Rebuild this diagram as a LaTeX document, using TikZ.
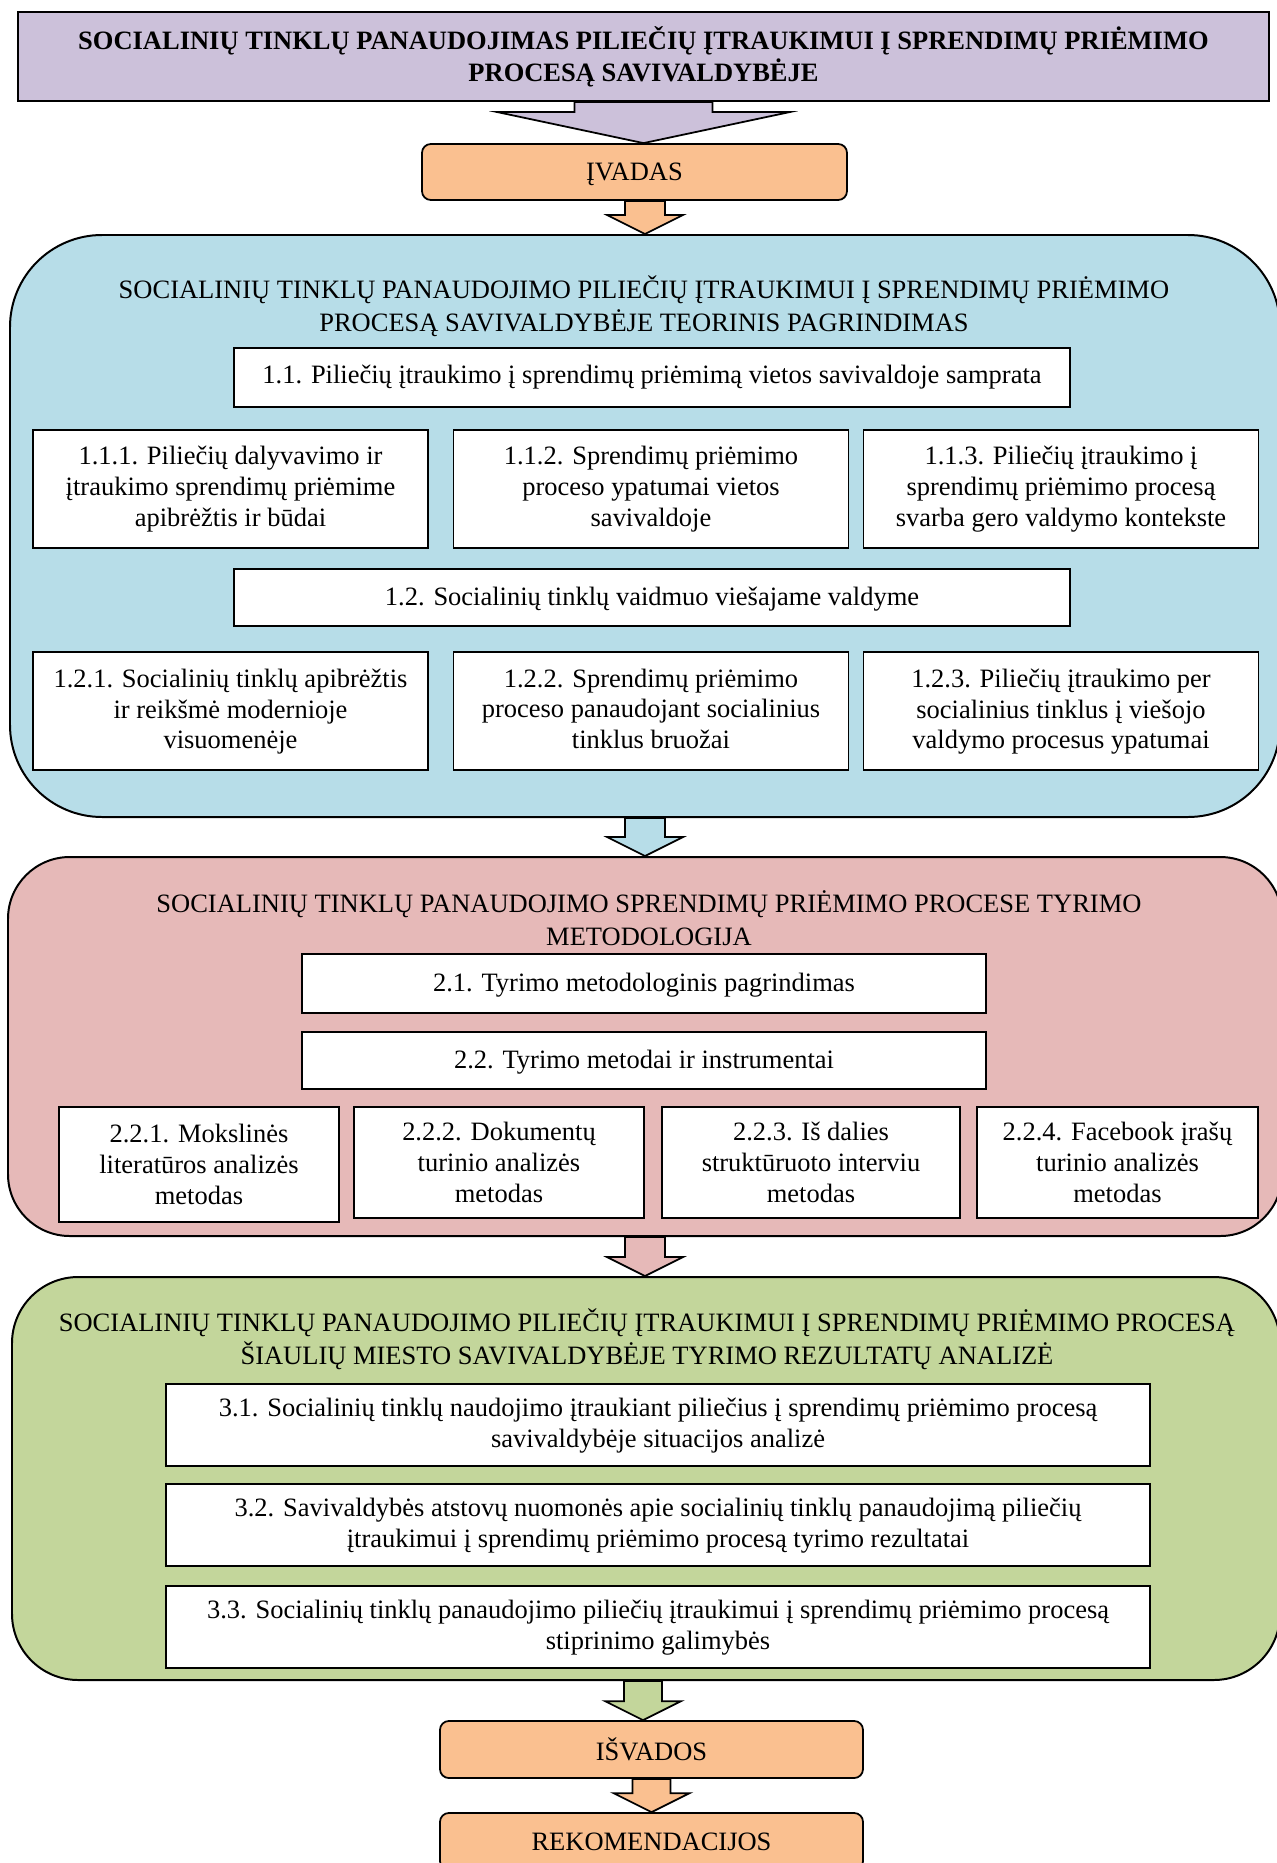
\documentclass[tikz,border=0pt]{standalone}
\usepackage{fontspec}
\setmainfont{Liberation Serif}
\usepackage{tikz}
\usetikzlibrary{calc,positioning}
\definecolor{headpurple}{HTML}{CCC1DA}
\definecolor{peach}{HTML}{FAC090}
\definecolor{teorblue}{HTML}{B7DDE8}
\definecolor{metpink}{HTML}{E6B9B8}
\definecolor{resgreen}{HTML}{C3D69B}
\newcommand{\px}{0.453pt}
\tikzstyle{box}=[draw,fill=white,line width=0.8pt,align=center,inner sep=2pt,font=\fontsize{12}{14}\selectfont]
\tikzstyle{panel}=[draw,line width=0.9pt,inner sep=0pt]
\tikzstyle{paneltitle}=[align=center,inner sep=0pt,font=\fontsize{12}{15}\selectfont]
\tikzstyle{endbox}=[draw,fill=peach,line width=0.8pt,rounded corners=4pt,minimum width=423*\px,minimum height=57*\px,text depth=0pt,font=\fontsize{12}{14}\selectfont]
\newcommand{\blockarrow}[6]{%
  \filldraw[fill=#3,line width=0.8pt,line join=miter]
    ($(#1)+(-#4,0)$) -- ($(#2)+(-#4,-#6)$) -- ($(#2)+(-#5,-#6)$) -- (#2)
    -- ($(#2)+(#5,-#6)$) -- ($(#2)+(#4,-#6)$) -- ($(#1)+(#4,0)$) -- cycle;}

\begin{document}
\begin{tikzpicture}[x=\px,y=-\px,
wide/.style={box,minimum width=836*\px},
third/.style={box,minimum width=395*\px,minimum height=118*\px},
mid/.style={box,minimum width=684*\px},
quarter/.style={box,minimum height=111*\px},
long/.style={box,minimum width=984*\px,minimum height=82*\px}]
\useasboundingbox (0,0) rectangle (1277,1863);
\clip (0,0) rectangle (1277,1863);

\node [draw,fill=headpurple,line width=0.9pt,align=center,minimum width=1251*\px,minimum height=89*\px,font=\fontsize{12}{14.5}\selectfont\bfseries] (title) at (643.5,56.5)
    {SOCIALINIŲ TINKLŲ PANAUDOJIMAS PILIEČIŲ ĮTRAUKIMUI Į SPRENDIMŲ PRIĖMIMO\\PROCESĄ SAVIVALDYBĖJE};
\node [endbox,minimum width=425*\px,minimum height=56*\px] (ivadas) at (634.5,172) {ĮVADAS};

\node [panel,fill=teorblue,minimum width=1270*\px,minimum height=582*\px,rounded corners=41.7pt] (teorija) at (645,526) {};
\node [paneltitle] (teorijatitle) at (644,306.5)
    {SOCIALINIŲ TINKLŲ PANAUDOJIMO PILIEČIŲ ĮTRAUKIMUI Į SPRENDIMŲ PRIĖMIMO\\PROCESĄ SAVIVALDYBĖJE TEORINIS PAGRINDIMAS};
\node [wide,minimum height=59*\px] (s11) at (652,377.5)
    {1.1. Piliečių įtraukimo į sprendimų priėmimą vietos savivaldoje samprata};
\node [third] (s111) at (230.5,489) {1.1.1. Piliečių dalyvavimo ir\\įtraukimo sprendimų priėmime\\apibrėžtis ir būdai};
\node [third] (s112) at (651,489) {1.1.2. Sprendimų priėmimo\\proceso ypatumai vietos\\savivaldoje};
\node [third] (s113) at (1061,489) {1.1.3. Piliečių įtraukimo į\\sprendimų priėmimo procesą\\svarba gero valdymo kontekste};
\node [wide,minimum height=57*\px,text depth=1pt] (s12) at (652,597.5)
    {1.2. Socialinių tinklų vaidmuo viešajame valdyme};
\node [third,text depth=2pt] (s121) at (230.5,711) {1.2.1. Socialinių tinklų apibrėžtis\\ir reikšmė modernioje\\visuomenėje};
\node [third,text depth=2pt] (s122) at (651,711) {1.2.2. Sprendimų priėmimo\\proceso panaudojant socialinius\\tinklus bruožai};
\node [third,text depth=2pt] (s123) at (1061,711) {1.2.3. Piliečių įtraukimo per\\socialinius tinklus į viešojo\\valdymo procesus ypatumai};

\node [panel,fill=metpink,minimum width=1274*\px,minimum height=379*\px,rounded corners=28pt] (metodai) at (645,1046.5) {};
\node [paneltitle] (metodaititle) at (649,918)
    {SOCIALINIŲ TINKLŲ PANAUDOJIMO SPRENDIMŲ PRIĖMIMO PROCESE TYRIMO\\METODOLOGIJA};
\node [mid,minimum height=59*\px,text depth=1pt] (s21) at (644,983.5) {2.1. Tyrimo metodologinis pagrindimas};
\node [mid,minimum height=57*\px,text depth=1pt] (s22) at (644,1060.5) {2.2. Tyrimo metodai ir instrumentai};
\node [quarter,minimum width=280*\px,minimum height=115*\px] (s221) at (199,1164.5) {2.2.1. Mokslinės\\literatūros analizės\\metodas};
\node [quarter,minimum width=290*\px] (s222) at (499,1162.5) {2.2.2. Dokumentų\\turinio analizės\\metodas};
\node [quarter,minimum width=298*\px] (s223) at (811,1162.5) {2.2.3. Iš dalies\\struktūruoto interviu\\metodas};
\node [quarter,minimum width=281*\px] (s224) at (1117.5,1162.5) {2.2.4. Facebook įrašų\\turinio analizės\\metodas};

\node [panel,fill=resgreen,minimum width=1268*\px,minimum height=403*\px,rounded corners=30pt] (rezultatai) at (646,1478.5) {};
\node [paneltitle] (rezultataititle) at (647,1339)
    {SOCIALINIŲ TINKLŲ PANAUDOJIMO PILIEČIŲ ĮTRAUKIMUI Į SPRENDIMŲ PRIĖMIMO PROCESĄ\\ŠIAULIŲ MIESTO SAVIVALDYBĖJE TYRIMO REZULTATŲ ANALIZĖ};
\node [long,text depth=2pt] (s31) at (658,1425) {3.1. Socialinių tinklų naudojimo įtraukiant piliečius į sprendimų priėmimo procesą\\savivaldybėje situacijos analizė};
\node [long,text depth=2pt] (s32) at (658,1525) {3.2. Savivaldybės atstovų nuomonės apie socialinių tinklų panaudojimą piliečių\\įtraukimui į sprendimų priėmimo procesą tyrimo rezultatai};
\node [long,text depth=2pt] (s33) at (658,1627) {3.3. Socialinių tinklų panaudojimo piliečių įtraukimui į sprendimų priėmimo procesą\\stiprinimo galimybės};

\node [endbox] (isvados) at (651.5,1749.5) {IŠVADOS};
\node [endbox] (rekom) at (651.5,1841.5) {REKOMENDACIJOS};

\coordinate (a0top) at (title.south);
\coordinate (a0tip) at (title.south |- ivadas.north);
\coordinate (a1top) at (teorija.north |- ivadas.south);
\coordinate (a2top) at (teorija.south);
\coordinate (a2tip) at (teorija.south |- metodai.north);
\coordinate (a3top) at (metodai.south);
\coordinate (a3tip) at (metodai.south |- rezultatai.north);
\coordinate (a4top) at (643,0 |- rezultatai.south);
\coordinate (a4tip) at (643,0 |- isvados.north);
\coordinate (a5top) at (isvados.south);
\blockarrow{a0top}{a0tip}{headpurple}{69}{146}{31}
\blockarrow{a1top}{teorija.north}{peach}{20}{38}{19}
\blockarrow{a2top}{a2tip}{teorblue}{20}{38}{19}
\blockarrow{a3top}{a3tip}{metpink}{20}{38}{19}
\blockarrow{a4top}{a4tip}{resgreen}{19}{38}{19}
\blockarrow{a5top}{rekom.north}{peach}{19}{38}{19}
\end{tikzpicture}
\end{document}
